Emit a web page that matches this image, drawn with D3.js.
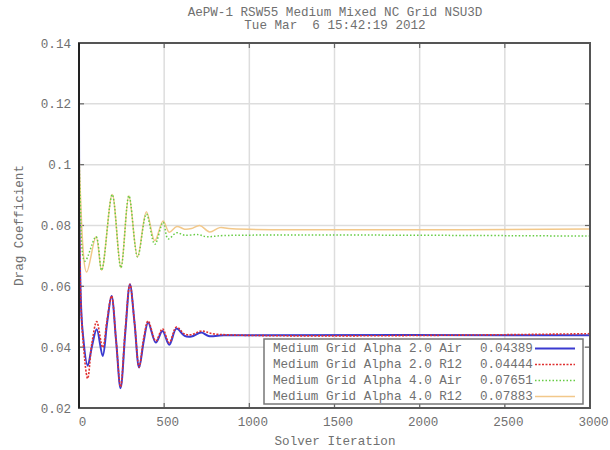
<!DOCTYPE html>
<html>
<head>
<meta charset="utf-8">
<script src="https://cdn.jsdelivr.net/npm/d3@7"></script>
<style>
  body { margin: 0; background: #fff; }
  text { font-family: "Liberation Mono", "DejaVu Sans Mono", monospace; fill: #707070; }
</style>
</head>
<body>
<div id="chart"></div>
<script>
// titles
const titleLines = ["AePW-1 RSW55 Medium Mixed NC Grid NSU3D", "Tue Mar  6 15:42:19 2012"]
const xLabel = "Solver Iteration"
const yLabel = "Drag Coefficient"

// ticks
const xTicks = [0, 500, 1000, 1500, 2000, 2500, 3000]
const yTicks = [0.02, 0.04, 0.06, 0.08, 0.1, 0.12, 0.14]

// series: iteration / drag coefficient
const a20AirIter = [0, 6, 20, 51, 75, 104, 139, 165, 191, 218, 244, 272, 299, 326, 353, 380, 406, 451, 490, 530, 572, 620, 660, 718, 760, 850, 3000]
const a20AirCd = [0.15, 0.066, 0.046, 0.0339, 0.040, 0.0459, 0.0371, 0.048, 0.0568, 0.042, 0.0265, 0.045, 0.0607, 0.048, 0.0333, 0.042, 0.0481, 0.0415, 0.0453, 0.0408, 0.0461, 0.0437, 0.0435, 0.0448, 0.0437, 0.0439, 0.04389]

const a20R12Iter = [0, 6, 20, 51, 75, 104, 139, 165, 191, 218, 244, 272, 299, 326, 353, 380, 406, 451, 490, 530, 572, 620, 660, 718, 800, 3000]
const a20R12Cd = [0.15, 0.067, 0.045, 0.0297, 0.041, 0.0484, 0.0399, 0.049, 0.0568, 0.042, 0.027, 0.046, 0.0607, 0.048, 0.0335, 0.043, 0.0486, 0.042, 0.046, 0.0415, 0.0466, 0.0443, 0.0441, 0.0453, 0.0443, 0.04444]

const a40AirIter = [0, 6, 35, 100, 133, 195, 246, 293, 344, 396, 445, 494, 523, 572, 620, 700, 748, 850, 3000]
const a40AirCd = [0.15, 0.0908, 0.0683, 0.0763, 0.0653, 0.0902, 0.0661, 0.0898, 0.0697, 0.0838, 0.0738, 0.0811, 0.0756, 0.0776, 0.0768, 0.077, 0.0763, 0.0767, 0.07651]

const a40R12Iter = [0, 6, 45, 100, 133, 195, 246, 293, 344, 396, 445, 494, 530, 574, 620, 660, 709, 767, 826, 900, 3000]
const a40R12Cd = [0.15, 0.0935, 0.0647, 0.0763, 0.0653, 0.0902, 0.0661, 0.0898, 0.0697, 0.0845, 0.075, 0.0815, 0.0778, 0.0797, 0.0788, 0.079, 0.080, 0.0779, 0.0793, 0.0789, 0.07883]

const seriesNames = ["Medium Grid Alpha 2.0 Air", "Medium Grid Alpha 2.0 R12", "Medium Grid Alpha 4.0 Air", "Medium Grid Alpha 4.0 R12"]
const finalValues = ["0.04389", "0.04444", "0.07651", "0.07883"]

const series = [
    {iter: a20AirIter, cd: a20AirCd, color: "#3a3ad0", width: 2, dash: null},
    {iter: a20R12Iter, cd: a20R12Cd, color: "#e03030", width: 1.6, dash: "2,1.5"},
    {iter: a40AirIter, cd: a40AirCd, color: "#66cc44", width: 1.5, dash: "1.5,2"},
    {iter: a40R12Iter, cd: a40R12Cd, color: "#f2c88a", width: 1.5, dash: null}
]
// drawing order (the dotted green sits over the orange line)
const drawOrder = [0, 1, 3, 2]

const width = 610
const height = 450
const margin = {left: 79, right: 20, top: 43, bottom: 42}

const x = d3.scaleLinear().domain([0, 3000]).range([margin.left, width - margin.right])
const y = d3.scaleLinear().domain([0.02, 0.14]).range([height - margin.bottom, margin.top])

const svg = d3.select("#chart").append("svg")
    .attr("width", width)
    .attr("height", height)

// title
svg.append("g").selectAll("text")
    .data(titleLines)
    .join("text")
        .attr("x", 335)
        .attr("y", (d, i) => 13 + i * 13)
        .attr("text-anchor", "middle")
        .attr("dominant-baseline", "central")
        .style("font-size", "12.6px")
        .style("white-space", "pre")
        .text(d => d)

// grid
svg.append("g")
    .attr("stroke", "#ddd")
    .attr("stroke-width", 1.5)
    .selectAll("line")
    .data(xTicks.slice(1, -1))
    .join("line")
        .attr("x1", d => x(d)).attr("x2", d => x(d))
        .attr("y1", y(0.02)).attr("y2", y(0.14))

svg.append("g")
    .attr("stroke", "#ddd")
    .attr("stroke-width", 1.5)
    .selectAll("line")
    .data(yTicks.slice(1, -1))
    .join("line")
        .attr("y1", d => y(d)).attr("y2", d => y(d))
        .attr("x1", x(0)).attr("x2", x(3000))

// axes (labels only, ticks drawn inward)
const xAxis = d3.axisBottom(x).tickValues(xTicks).tickSize(0).tickPadding(9).tickFormat(d3.format("d"))
const yAxis = d3.axisLeft(y).tickValues(yTicks).tickSize(0).tickPadding(8).tickFormat(d => String(+d.toFixed(2)))

const gx = svg.append("g")
    .attr("transform", `translate(0,${y(0.02)})`)
    .call(xAxis)
gx.select(".domain").remove()
gx.selectAll("text").attr("dx", 3).style("font-size", "12.6px").attr("fill", "#707070")

const gy = svg.append("g")
    .attr("transform", `translate(${x(0)},0)`)
    .call(yAxis)
gy.select(".domain").remove()
gy.selectAll("text").style("font-size", "12.6px").attr("fill", "#707070")

// inward tick marks on all four sides
const tickLen = 5
const ticks = svg.append("g").attr("stroke", "#666").attr("stroke-width", 1.2)
xTicks.forEach(t => {
    ticks.append("line").attr("x1", x(t)).attr("x2", x(t)).attr("y1", y(0.02)).attr("y2", y(0.02) - tickLen)
    ticks.append("line").attr("x1", x(t)).attr("x2", x(t)).attr("y1", y(0.14)).attr("y2", y(0.14) + tickLen)
})
yTicks.forEach(t => {
    ticks.append("line").attr("y1", y(t)).attr("y2", y(t)).attr("x1", x(0)).attr("x2", x(0) + tickLen)
    ticks.append("line").attr("y1", y(t)).attr("y2", y(t)).attr("x1", x(3000)).attr("x2", x(3000) - tickLen)
})

// axis titles
svg.append("text")
    .attr("x", 335)
    .attr("y", 442)
    .attr("text-anchor", "middle")
    .attr("dominant-baseline", "central")
    .style("font-size", "12.6px")
    .text(xLabel)

svg.append("text")
    .attr("transform", `translate(20,${(y(0.02) + y(0.14)) / 2}) rotate(-90)`)
    .attr("text-anchor", "middle")
    .attr("dominant-baseline", "central")
    .style("font-size", "12.6px")
    .text(yLabel)

// clip for curves
svg.append("clipPath").attr("id", "clip")
    .append("rect")
        .attr("x", x(0)).attr("y", y(0.14))
        .attr("width", x(3000) - x(0)).attr("height", y(0.02) - y(0.14))

const line = d3.line()
    .x(d => x(d[0]))
    .y(d => y(d[1]))
    .curve(d3.curveCatmullRom.alpha(0.5))

const plot = svg.append("g").attr("clip-path", "url(#clip)")
drawOrder.map(i => series[i]).forEach(s => {
    plot.append("path")
        .datum(s.iter.map((it, i) => [it, s.cd[i]]))
        .attr("fill", "none")
        .attr("stroke", s.color)
        .attr("stroke-width", s.width)
        .attr("stroke-dasharray", s.dash)
        .attr("d", line)
})

// border
svg.append("rect")
    .attr("x", x(0)).attr("y", y(0.14))
    .attr("width", x(3000) - x(0)).attr("height", y(0.02) - y(0.14))
    .attr("fill", "none")
    .attr("stroke", "#555")
    .attr("stroke-width", 2)
svg.append("line")
    .attr("x1", x(0)).attr("x2", x(0))
    .attr("y1", y(0.14)).attr("y2", y(0.02))
    .attr("stroke", "#222").attr("stroke-width", 2)

// legend
const legend = svg.append("g")
legend.append("rect")
    .attr("x", 264).attr("y", 339)
    .attr("width", 319).attr("height", 65)
    .attr("fill", "#fff")
    .attr("stroke", "#777")
    .attr("stroke-width", 1.5)

const rows = legend.selectAll("g.row")
    .data(series)
    .join("g")
        .attr("class", "row")
        .attr("transform", (d, i) => `translate(0,${348.5 + i * 16})`)

rows.append("text")
    .attr("x", 273)
    .attr("dominant-baseline", "central")
    .style("font-size", "12.6px")
    .text((d, i) => seriesNames[i])

rows.append("text")
    .attr("x", 480)
    .attr("dominant-baseline", "central")
    .style("font-size", "12.6px")
    .text((d, i) => finalValues[i])

rows.append("line")
    .attr("x1", 535).attr("x2", 575)
    .attr("stroke", d => d.color)
    .attr("stroke-width", d => d.width)
    .attr("stroke-dasharray", d => d.dash)
</script>
</body>
</html>
